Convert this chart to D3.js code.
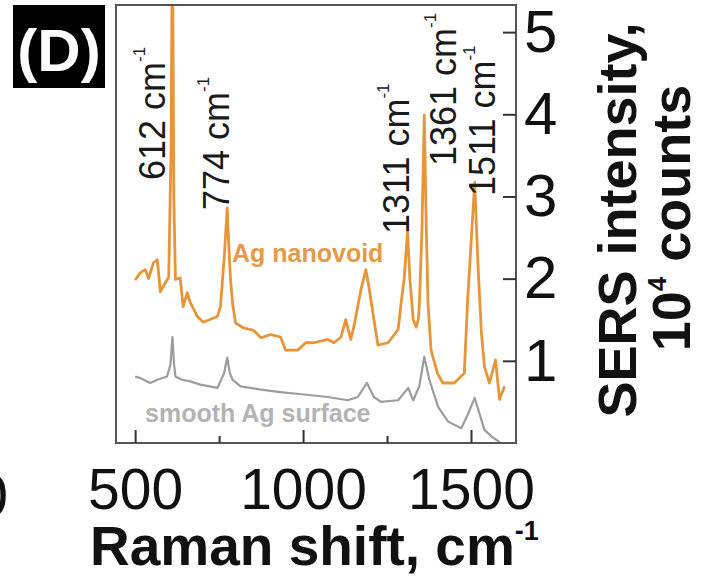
<!DOCTYPE html>
<html lang="en">
<head>
<meta charset="UTF-8">
<title>SERS spectra</title>
<style>
    body { margin: 0; background: #ffffff; }
    svg { display: block; font-family: "Liberation Sans", Arial, sans-serif; }
    .axis path { display: none; }
    .axis line { stroke: #333; stroke-width: 2px; }
    .axis text { fill: #111; font-size: 60px; }
    .xaxis text { font-size: 57px; }
</style>
</head>
<body>
<script src="https://d3js.org/d3.v7.min.js"></script>
<script>
    // Ag nanovoid spectrum (orange), Raman shift cm-1 / intensity 10^4 counts
    var nanovoidShift = [500, 515, 530, 540, 554, 566, 575, 590, 600, 607, 611, 615, 620, 634, 643, 655, 664, 685, 703, 745, 754, 766, 774, 780, 784, 790, 799, 823, 853, 874, 903, 933, 948, 984, 1008, 1032, 1074, 1092, 1113, 1127, 1142, 1151, 1172, 1187, 1196, 1211, 1223, 1253, 1283, 1293, 1301, 1311, 1318, 1328, 1337, 1343, 1346, 1354, 1361, 1366, 1372, 1381, 1400, 1416, 1450, 1480, 1490, 1511, 1521, 1531, 1540, 1555, 1573, 1585, 1600];
    var nanovoidCounts = [1.98, 2.07, 2.11, 2.00, 2.19, 2.23, 1.84, 1.95, 2.02, 3.6, 6.5, 3.0, 1.99, 2.01, 1.66, 1.83, 1.71, 1.54, 1.47, 1.54, 1.66, 2.3, 2.86, 2.3, 1.99, 1.7, 1.46, 1.40, 1.37, 1.28, 1.32, 1.29, 1.13, 1.13, 1.22, 1.22, 1.26, 1.22, 1.29, 1.50, 1.26, 1.41, 1.86, 2.11, 1.90, 1.50, 1.19, 1.22, 1.38, 1.74, 2.0, 2.57, 2.0, 1.50, 1.41, 1.50, 1.66, 2.6, 3.99, 2.8, 1.7, 1.13, 0.85, 0.73, 0.73, 0.85, 1.74, 3.17, 2.15, 1.34, 0.93, 0.73, 1.01, 0.53, 0.69];

    // smooth Ag surface spectrum (gray)
    var smoothShift = [500, 515, 545, 566, 595, 605, 611, 616, 620, 640, 664, 694, 745, 765, 774, 782, 790, 814, 874, 933, 1002, 1074, 1133, 1163, 1190, 1211, 1232, 1283, 1301, 1313, 1328, 1346, 1361, 1376, 1402, 1432, 1471, 1492, 1511, 1525, 1540, 1561, 1585];
    var smoothCounts = [0.81, 0.79, 0.73, 0.77, 0.81, 0.95, 1.29, 0.95, 0.81, 0.77, 0.75, 0.71, 0.67, 0.85, 1.04, 0.85, 0.77, 0.69, 0.65, 0.62, 0.59, 0.56, 0.52, 0.56, 0.73, 0.56, 0.50, 0.52, 0.61, 0.67, 0.52, 0.69, 1.05, 0.77, 0.44, 0.26, 0.18, 0.36, 0.55, 0.36, 0.16, 0.08, 0.01];

    var peakShifts = [612, 774, 1311, 1361, 1511];
    var peakLabels = ["612 cm", "774 cm", "1311 cm", "1361 cm", "1511 cm"];

    var xMajorTicks = [500, 1000, 1500];
    var xMinorTicks = [750, 1250];
    var yTicks = [1, 2, 3, 4, 5];

    var width = 702, height = 577;
    var frame = {left: 116, top: 5, right: 516, bottom: 443};

    var svg = d3.select("body").append("svg")
        .attr("width", width)
        .attr("height", height);

    var xScale = d3.scaleLinear()
        .domain([443, 1634])
        .range([frame.left, frame.right]);

    var yScale = d3.scaleLinear()
        .domain([0, 5.33])
        .range([frame.bottom, frame.top]);

    svg.append("clipPath")
        .attr("id", "plotClip")
        .append("rect")
        .attr("x", frame.left)
        .attr("y", frame.top)
        .attr("width", frame.right - frame.left)
        .attr("height", frame.bottom - frame.top);

    var line = d3.line()
        .x(function(d) { return xScale(d[0]); })
        .y(function(d) { return yScale(d[1]); });

    var plot = svg.append("g").attr("clip-path", "url(#plotClip)");

    plot.append("path")
        .datum(d3.zip(smoothShift, smoothCounts))
        .attr("fill", "none")
        .attr("stroke", "#9c9c9c")
        .attr("stroke-width", 2.2)
        .attr("stroke-linejoin", "round")
        .attr("d", line);

    plot.append("path")
        .datum(d3.zip(nanovoidShift, nanovoidCounts))
        .attr("fill", "none")
        .attr("stroke", "#e8953a")
        .attr("stroke-width", 2.8)
        .attr("stroke-linejoin", "round")
        .attr("d", line);

    // frame
    svg.append("rect")
        .attr("x", frame.left)
        .attr("y", frame.top)
        .attr("width", frame.right - frame.left)
        .attr("height", frame.bottom - frame.top)
        .attr("fill", "none")
        .attr("stroke", "#555")
        .attr("stroke-width", 2);

    // bottom axis, ticks pointing inside
    svg.append("g")
        .attr("class", "axis xaxis")
        .attr("transform", "translate(0," + frame.bottom + ")")
        .call(d3.axisBottom(xScale).tickValues(xMajorTicks).tickSize(-13).tickPadding(26).tickFormat(d3.format("d")));

    svg.append("g")
        .attr("class", "axis")
        .attr("transform", "translate(0," + frame.bottom + ")")
        .call(d3.axisBottom(xScale).tickValues(xMinorTicks).tickSize(-7).tickFormat(""));

    // right axis
    svg.append("g")
        .attr("class", "axis")
        .attr("transform", "translate(" + frame.right + ",0)")
        .call(d3.axisRight(yScale).tickValues(yTicks).tickSize(-13).tickPadding(8).tickFormat(d3.format("d")));

    // neighbouring panel's cut label
    svg.append("text")
        .attr("x", 8)
        .attr("y", 516)
        .attr("text-anchor", "end")
        .attr("font-size", 60)
        .attr("fill", "#111")
        .text("0");

    // peak labels (rotated)
    var labelOffsets = [[-8, 180], [2, 210], [1, 234], [32, 166], [20, 196]];
    peakShifts.forEach(function(p, i) {
        var t = svg.append("text")
            .attr("transform", "translate(" + (xScale(p) + labelOffsets[i][0]) + "," + labelOffsets[i][1] + ") rotate(-90)")
            .attr("font-size", 36)
            .attr("fill", "#1a1a1a");
        t.append("tspan").text(peakLabels[i]);
        t.append("tspan").attr("font-size", 17).attr("dy", -20).text("-1");
    });

    // series labels
    svg.append("text")
        .attr("x", 232)
        .attr("y", 262)
        .attr("font-size", 25)
        .attr("font-weight", "bold")
        .attr("fill", "#e59a48")
        .text("Ag nanovoid");

    svg.append("text")
        .attr("x", 145)
        .attr("y", 422)
        .attr("font-size", 25)
        .attr("font-weight", "bold")
        .attr("fill", "#b3b3b3")
        .text("smooth Ag surface");

    // axis titles
    svg.append("text")
        .attr("transform", "translate(636,220) rotate(-90)")
        .attr("text-anchor", "middle")
        .attr("font-size", 54)
        .attr("font-weight", "bold")
        .attr("fill", "#111")
        .text("SERS intensity,");

    var yt2 = svg.append("text")
        .attr("transform", "translate(690,218) rotate(-90)")
        .attr("text-anchor", "middle")
        .attr("font-size", 54)
        .attr("font-weight", "bold")
        .attr("fill", "#111");
    yt2.append("tspan").text("10");
    yt2.append("tspan").attr("font-size", 26).attr("dy", -24).text("4");
    yt2.append("tspan").attr("dy", 24).text(" counts");

    var xt = svg.append("text")
        .attr("x", 90)
        .attr("y", 565)
        .attr("font-size", 55)
        .attr("font-weight", "bold")
        .attr("fill", "#111");
    xt.append("tspan").text("Raman shift, cm");
    xt.append("tspan").attr("font-size", 27).attr("dy", -25).text("-1");

    // panel tag
    svg.append("rect")
        .attr("x", 13).attr("y", 5)
        .attr("width", 92).attr("height", 83)
        .attr("fill", "#000");

    svg.append("text")
        .attr("x", 59)
        .attr("y", 71)
        .attr("text-anchor", "middle")
        .attr("font-size", 60)
        .attr("font-weight", "bold")
        .attr("fill", "#fff")
        .text("(D)");
</script>
</body>
</html>
